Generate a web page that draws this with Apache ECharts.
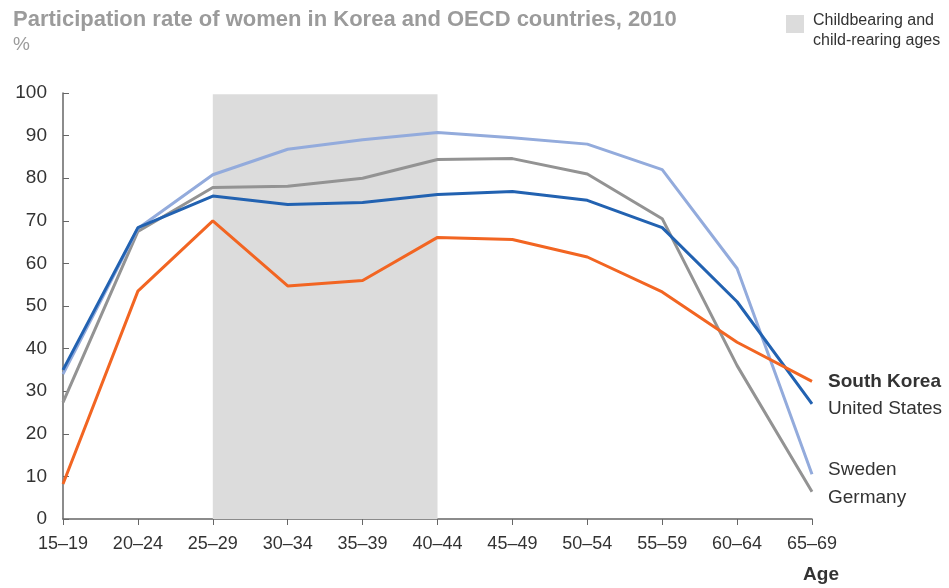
<!DOCTYPE html>
<html>
<head>
<meta charset="utf-8">
<script src="https://cdn.jsdelivr.net/npm/echarts@6/dist/echarts.min.js"></script>
<style>
html, body { margin: 0; padding: 0; background: #fff; }
#chart { width: 949px; height: 588px; }
</style>
</head>
<body>
<div id="chart"></div>
<script>
var ages = ["15–19", "20–24", "25–29", "30–34", "35–39", "40–44", "45–49", "50–54", "55–59", "60–64", "65–69"];
var southKorea = [8.2, 53.5, 70, 54.7, 56, 66.1, 65.6, 61.5, 53.3, 41.5, 32.3];
var unitedStates = [35, 68.4, 75.8, 73.8, 74.3, 76.2, 76.9, 74.8, 68.4, 51, 27];
var sweden = [34, 68.2, 80.8, 86.8, 89, 90.7, 89.5, 88, 82, 58.8, 10.5];
var germany = [27.4, 67.5, 77.8, 78.1, 80, 84.4, 84.6, 81, 70.5, 36, 6.4];
var shadeFrom = "25–29";
var shadeTo = "40–44";
var shadeName = "Childbearing and\nchild-rearing ages";

var FONT = "Liberation Sans, Arial, sans-serif";
var chart = echarts.init(document.getElementById("chart"));

function countryLine(name, data, color, label) {
  return {
    name: name,
    type: "line",
    data: data,
    symbol: "none",
    z: 3,
    lineStyle: { color: color, width: 3 },
    itemStyle: { color: color },
    endLabel: {
      show: true,
      formatter: name,
      distance: 16,
      offset: label.offset,
      color: "#333",
      fontSize: 19,
      fontWeight: label.bold ? "bold" : "normal",
      fontFamily: FONT
    }
  };
}

var option = {
  animation: false,
  title: {
    text: "Participation rate of women in Korea and OECD countries, 2010",
    subtext: "%",
    left: 8,
    top: 4,
    itemGap: 4,
    textStyle: { color: "#9b9b9b", fontSize: 22, fontWeight: "bold", fontFamily: FONT },
    subtextStyle: { color: "#9b9b9b", fontSize: 19, fontFamily: FONT }
  },
  // shaded-band key, drawn by hand so the square sits at the first line
  graphic: [
    { type: "rect", left: 786, top: 15, shape: { width: 18, height: 18 }, style: { fill: "#dcdcdc" } },
    {
      type: "text", left: 813, top: 11,
      style: { text: shadeName, fill: "#333", fontSize: 16, lineHeight: 20, fontFamily: FONT }
    }
  ],
  grid: { left: 63, right: 137, top: 93, bottom: 69 },
  xAxis: {
    type: "category",
    data: ages,
    boundaryGap: false,
    name: "Age",
    nameLocation: "end",
    nameGap: 0,
    nameTextStyle: {
      color: "#333", fontSize: 19, fontWeight: "bold",
      align: "center", verticalAlign: "top", padding: [46, 0, 0, 18], fontFamily: FONT
    },
    axisLine: { lineStyle: { color: "#666", width: 1.5 } },
    axisTick: { show: true, length: 6, lineStyle: { color: "#666" } },
    axisLabel: { color: "#333", fontSize: 18, margin: 16, fontFamily: FONT },
    splitLine: { show: false }
  },
  yAxis: {
    type: "value",
    min: 0,
    max: 100,
    interval: 10,
    axisLine: { show: true, lineStyle: { color: "#666", width: 1.5 } },
    axisTick: { show: true, inside: true, length: 6, lineStyle: { color: "#666" } },
    axisLabel: { color: "#333", fontSize: 19, margin: 16, fontFamily: FONT },
    splitLine: { show: false }
  },
  series: [
    {
      name: shadeName,
      type: "line",
      data: [],
      z: 1,
      markArea: {
        silent: true,
        itemStyle: { color: "#dcdcdc" },
        data: [[{ xAxis: shadeFrom, yAxis: 0 }, { xAxis: shadeTo, yAxis: 99.7 }]]
      }
    },
    countryLine("Germany", germany, "#939393", { offset: [0, 6] }),
    countryLine("Sweden", sweden, "#93abdc", { offset: [0, -5] }),
    countryLine("United States", unitedStates, "#2262b1", { offset: [0, 5] }),
    countryLine("South Korea", southKorea, "#f26522", { offset: [0, 0], bold: true })
  ]
};

chart.setOption(option);
</script>
</body>
</html>
